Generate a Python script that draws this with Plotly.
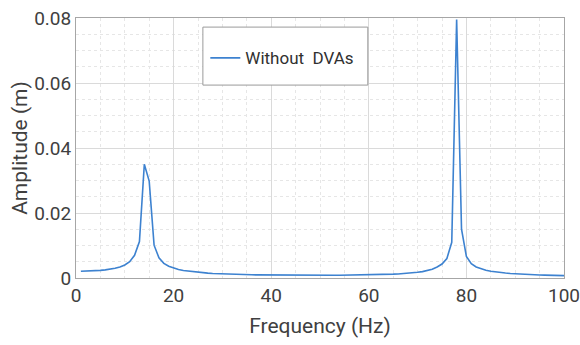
import plotly.graph_objects as go

freq = list(range(1, 101))
amplitude = [
    0.00210, 0.00212, 0.00218, 0.00226, 0.00236, 0.00250, 0.00270, 0.00300, 0.00340, 0.00400,
    0.00500, 0.00700, 0.01120, 0.03500, 0.02980, 0.01010, 0.00620, 0.00450, 0.00360, 0.00300,
    0.00260, 0.00230, 0.00210, 0.00190, 0.00170, 0.00160, 0.00150, 0.00140, 0.00132, 0.00125,
    0.00119, 0.00114, 0.00110, 0.00106, 0.00102, 0.00099, 0.00096, 0.00094, 0.00092, 0.00090,
    0.00088, 0.00087, 0.00086, 0.00085, 0.00084, 0.00084, 0.00083, 0.00083, 0.00083, 0.00083,
    0.00083, 0.00084, 0.00084, 0.00085, 0.00086, 0.00087, 0.00089, 0.00091, 0.00093, 0.00096,
    0.00099, 0.00103, 0.00107, 0.00112, 0.00118, 0.00125, 0.00134, 0.00145, 0.00158, 0.00175,
    0.00197, 0.00228, 0.00272, 0.00340, 0.00430, 0.00600, 0.01100, 0.07950, 0.01500, 0.00660,
    0.00440, 0.00340, 0.00280, 0.00240, 0.00210, 0.00185, 0.00167, 0.00152, 0.00139, 0.00128,
    0.00119, 0.00111, 0.00104, 0.00098, 0.00093, 0.00088, 0.00084, 0.00080, 0.00076, 0.00073,
]
series_name = "Without  DVAs"
x_title = "Frequency (Hz)"
y_title = "Amplitude (m)"

FONT = "Roboto, Arial, sans-serif"
TXT = "#404040"

fig = go.Figure()
fig.add_trace(go.Scatter(
    x=freq, y=amplitude, mode="lines", name=series_name,
    line=dict(color="#3d82d0", width=1.6),
))

fig.update_layout(
    width=580, height=345,
    margin=dict(l=76, r=16, t=18, b=67, autoexpand=False),
    paper_bgcolor="white", plot_bgcolor="white",
    font=dict(family=FONT, size=19, color=TXT),
    showlegend=True,
    legend=dict(
        x=0.265, y=0.845, xanchor="left", yanchor="middle",
        bgcolor="rgba(255,255,255,0)", borderwidth=0,
        font=dict(family=FONT, size=17, color="#303030"),
        itemwidth=30,
    ),
    shapes=[dict(
        type="rect", xref="paper", yref="paper",
        x0=0.26, x1=0.598, y0=0.742, y1=0.965,
        line=dict(color="#9a9a9a", width=1), fillcolor="white",
        layer="above",
    )],
)

fig.update_xaxes(
    range=[0, 100], dtick=20, tick0=0,
    showgrid=True, gridcolor="#dadada", gridwidth=1,
    minor=dict(dtick=5, showgrid=True, gridcolor="#e6e6e6", griddash="dot"),
    showline=True, mirror=True, linecolor="#a6a6a6", linewidth=1,
    ticks="", zeroline=False, ticklabeloverflow="allow", automargin=False,
    tickfont=dict(family=FONT, size=19, color=TXT),
    title=dict(text=x_title, font=dict(family=FONT, size=21, color=TXT), standoff=12),
)
fig.update_yaxes(
    range=[0, 0.08], dtick=0.02, tick0=0,
    showgrid=True, gridcolor="#dadada", gridwidth=1,
    minor=dict(dtick=0.005, showgrid=True, gridcolor="#e6e6e6", griddash="dot"),
    showline=True, mirror=True, linecolor="#a6a6a6", linewidth=1,
    ticks="", zeroline=False, automargin=False,
    tickfont=dict(family=FONT, size=19, color=TXT),
    title=dict(text=y_title, font=dict(family=FONT, size=21, color=TXT), standoff=0),
)

fig.write_html("out.html")
